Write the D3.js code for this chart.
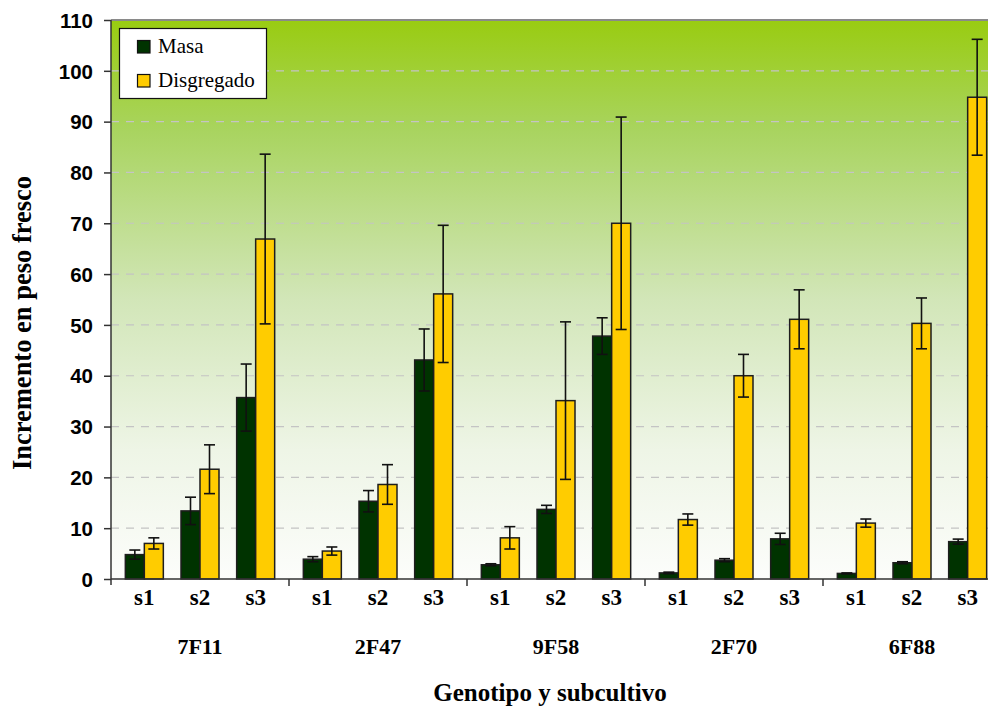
<!DOCTYPE html>
<html>
<head>
<meta charset="utf-8">
<script src="https://cdn.jsdelivr.net/npm/d3@7"></script>
<style>
  html, body { margin: 0; padding: 0; background: #ffffff; }
  svg { display: block; }
</style>
</head>
<body>
<svg id="chart" width="988" height="708"></svg>
<script>
// Genotypes and subcultures (two-level category axis)
const genotipos = ["7F11", "2F47", "9F58", "2F70", "6F88"];
const subcultivos = ["s1", "s2", "s3"];
const series = ["Masa", "Disgregado"];

// Fresh-weight increment, in genotype order, s1..s3 within each genotype
const masa      = [4.8, 13.4, 35.7,  3.9, 15.3, 43.1,  2.8, 13.7, 47.8,  1.2, 3.7, 7.9,  1.1, 3.2, 7.35];
const masaErr   = [0.9,  2.7,  6.6,  0.5,  2.1,  6.1,  0.2,  0.8,  3.6,  0.15, 0.3, 1.1, 0.1, 0.2, 0.5];
const disg      = [7.0, 21.6, 66.9,  5.5, 18.6, 56.1,  8.1, 35.1, 70.0, 11.7, 40.0, 51.1, 11.0, 50.3, 94.8];
const disgErr   = [1.1,  4.8, 16.7,  0.8,  3.9, 13.5,  2.2, 15.5, 20.9,  1.1,  4.2,  5.8,  0.8,  5.0, 11.4];

const yTicks = [0, 10, 20, 30, 40, 50, 60, 70, 80, 90, 100, 110];

const colors = { "Masa": "#003300", "Disgregado": "#ffcc00" };
const serif = "'Liberation Serif', 'Times New Roman', serif";
const sans = "'Liberation Sans', Arial, sans-serif";

const svg = d3.select("#chart");
const plotL = 111, plotR = 1001, plotT = 20, plotB = 579;

const x0 = d3.scaleBand().domain(genotipos).range([plotL, plotR]).padding(0);
const x1 = d3.scaleBand().domain(subcultivos).range([5.5, x0.bandwidth() - 5.5]).padding(0);
const xs = d3.scaleBand().domain(series).range([-19, 19]).padding(0);
const y = d3.scaleLinear().domain([0, 110]).range([plotB, plotT]);

// Background gradient of the plot area
const defs = svg.append("defs");
const grad = defs.append("linearGradient").attr("id", "bg")
  .attr("x1", 0).attr("y1", 0).attr("x2", 0).attr("y2", 1);
[[0, "#99cc11"], [0.2, "#a9d460"], [0.5, "#d2e6b8"], [0.77, "#eef5e6"], [1, "#fcfdfb"]]
  .forEach(([o, c]) => grad.append("stop").attr("offset", o).attr("stop-color", c));

svg.append("rect").attr("x", plotL).attr("y", plotT)
  .attr("width", plotR - plotL).attr("height", plotB - plotT)
  .attr("fill", "url(#bg)");

// Dashed horizontal gridlines
svg.append("g").selectAll("line").data(yTicks.filter(d => d > 0)).join("line")
  .attr("x1", plotL).attr("x2", plotR)
  .attr("y1", d => y(d)).attr("y2", d => y(d))
  .attr("stroke", "#c4c4c4").attr("stroke-width", 1.2)
  .attr("stroke-dasharray", "8,7");

// Top border of the plot area
svg.append("line").attr("x1", plotL).attr("x2", plotR).attr("y1", plotT).attr("y2", plotT)
  .attr("stroke", "#8a8a8a").attr("stroke-width", 2);

// Flatten data into bar records
const records = [];
genotipos.forEach((g, gi) => {
  subcultivos.forEach((s, si) => {
    const i = gi * 3 + si;
    records.push({ g, s, serie: "Masa", v: masa[i], e: masaErr[i] });
    records.push({ g, s, serie: "Disgregado", v: disg[i], e: disgErr[i] });
  });
});
const cx = d => x0(d.g) + x1(d.s) + x1.bandwidth() / 2 + xs(d.serie) + xs.bandwidth() / 2;

// Bars
svg.append("g").selectAll("rect").data(records).join("rect")
  .attr("x", d => x0(d.g) + x1(d.s) + x1.bandwidth() / 2 + xs(d.serie))
  .attr("y", d => y(d.v))
  .attr("width", xs.bandwidth())
  .attr("height", d => y(0) - y(d.v))
  .attr("fill", d => colors[d.serie])
  .attr("stroke", "#1e1e1e").attr("stroke-width", 1.5);

// Error bars
const eg = svg.append("g").attr("stroke", "#111").attr("stroke-width", 1.6);
eg.selectAll("line.v").data(records).join("line").attr("class", "v")
  .attr("x1", cx).attr("x2", cx)
  .attr("y1", d => y(d.v + d.e)).attr("y2", d => y(Math.max(0, d.v - d.e)));
eg.selectAll("line.t").data(records).join("line").attr("class", "t")
  .attr("x1", d => cx(d) - 5.5).attr("x2", d => cx(d) + 5.5)
  .attr("y1", d => y(d.v + d.e)).attr("y2", d => y(d.v + d.e));
eg.selectAll("line.b").data(records).join("line").attr("class", "b")
  .attr("x1", d => cx(d) - 5.5).attr("x2", d => cx(d) + 5.5)
  .attr("y1", d => y(Math.max(0, d.v - d.e))).attr("y2", d => y(Math.max(0, d.v - d.e)));

// Y axis
const yAxis = svg.append("g").attr("transform", `translate(${plotL},0)`)
  .call(d3.axisLeft(y).tickValues(yTicks).tickSize(7).tickPadding(11).tickFormat(d3.format("d")));
yAxis.select(".domain").attr("stroke", "#333").attr("stroke-width", 1.5)
  .attr("d", `M0,${plotT}V${plotB + 6}`);
yAxis.selectAll(".tick line").attr("stroke", "#333").attr("stroke-width", 1.5);
yAxis.selectAll(".tick text").attr("font-family", sans).attr("font-weight", "bold")
  .attr("font-size", 20.5).attr("fill", "#000").attr("dy", "0.35em");

// X axis baseline with separators between genotypes
svg.append("line").attr("x1", plotL).attr("x2", plotR).attr("y1", plotB).attr("y2", plotB)
  .attr("stroke", "#333").attr("stroke-width", 1.5);
svg.append("g").selectAll("line").data(genotipos.slice(1)).join("line")
  .attr("x1", d => x0(d)).attr("x2", d => x0(d))
  .attr("y1", plotB).attr("y2", plotB + 7)
  .attr("stroke", "#333").attr("stroke-width", 1.5);

// Subculture labels
const subLabels = [];
genotipos.forEach(g => subcultivos.forEach(s => subLabels.push({ g, s })));
svg.append("g").selectAll("text").data(subLabels).join("text")
  .attr("x", d => x0(d.g) + x1(d.s) + x1.bandwidth() / 2)
  .attr("y", 605)
  .attr("text-anchor", "middle")
  .attr("font-family", serif).attr("font-weight", "bold").attr("font-size", 23)
  .text(d => d.s);

// Genotype labels
svg.append("g").selectAll("text").data(genotipos).join("text")
  .attr("x", d => x0(d) + x0.bandwidth() / 2)
  .attr("y", 654)
  .attr("text-anchor", "middle")
  .attr("font-family", serif).attr("font-weight", "bold").attr("font-size", 22)
  .text(d => d);

// Axis titles
svg.append("text").attr("x", 550).attr("y", 701)
  .attr("text-anchor", "middle")
  .attr("font-family", serif).attr("font-weight", "bold").attr("font-size", 25)
  .text("Genotipo y subcultivo");
svg.append("text")
  .attr("transform", "translate(31,323) rotate(-90)")
  .attr("text-anchor", "middle")
  .attr("font-family", serif).attr("font-weight", "bold").attr("font-size", 26.5)
  .text("Incremento en peso fresco");

// Legend
const lg = svg.append("g");
lg.append("rect").attr("x", 119.5).attr("y", 28.5).attr("width", 147).attr("height", 70)
  .attr("fill", "#fff").attr("stroke", "#111").attr("stroke-width", 1.2);
const li = lg.selectAll("g").data(series).join("g")
  .attr("transform", (d, i) => `translate(0,${i * 34})`);
li.append("rect").attr("x", 137.5).attr("y", 40.5).attr("width", 12.5).attr("height", 12.5)
  .attr("fill", d => colors[d]).attr("stroke", "#111").attr("stroke-width", 1.2);
li.append("text").attr("x", 158).attr("y", 53)
  .attr("font-family", serif).attr("font-size", 21).attr("fill", "#000")
  .text(d => d);
</script>
</body>
</html>
